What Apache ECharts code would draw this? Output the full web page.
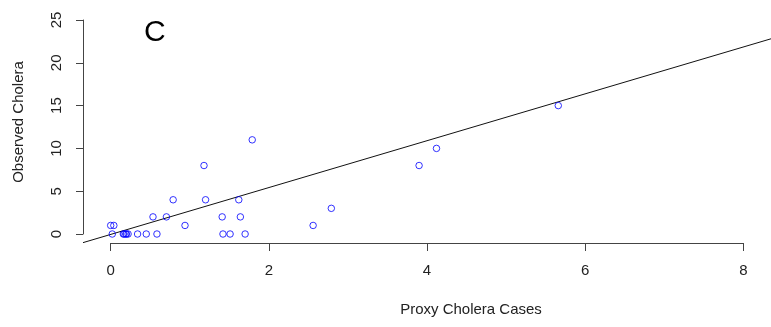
<!DOCTYPE html>
<html>
<head>
<meta charset="utf-8">
<script src="https://cdn.jsdelivr.net/npm/echarts@6/dist/echarts.min.js"></script>
<style>
  html, body { margin: 0; padding: 0; background: #fff; }
  #chart { width: 771px; height: 327px; }
</style>
</head>
<body>
<div id="chart"></div>
<script>
// proxy cholera cases (x) vs observed cholera (y)
var proxyCases = [0.00, 0.04, 0.02, 0.16, 0.17, 0.19, 0.20, 0.22, 0.34, 0.45, 0.585,
                  0.535, 0.705, 0.79, 0.94, 1.18, 1.20, 1.41, 1.42, 1.51, 1.62, 1.64,
                  1.70, 1.79, 2.56, 2.79, 3.90, 4.12, 5.66];
var observed   = [1, 1, 0, 0, 0, 0, 0, 0, 0, 0, 0,
                  2, 2, 4, 1, 8, 4, 2, 0, 0, 4, 2,
                  0, 11, 1, 3, 8, 10, 15];

// fitted line (intercept, slope) as drawn
var fitIntercept = -0.05;
var fitSlope = 2.737;

// axis ranges: ticks, and the padded plot region around them
var xTickMin = 0, xTickMax = 8, xTickStep = 2;
var yTickMin = 0, yTickMax = 25, yTickStep = 5;
var xMin = -0.35, xMax = 8.35;
var yMin = -1.05, yMax = 26.05;

// plot region in px
var plotL = 83, plotT = 11, plotW = 688, plotH = 232;

var font = "'Liberation Sans', Arial, sans-serif";
var axisColor = '#444';
var textColor = '#222';

function xPx(v) { return plotL + (v - xMin) / (xMax - xMin) * plotW; }
function yPx(v) { return plotT + (yMax - v) / (yMax - yMin) * plotH; }

var points = proxyCases.map(function (x, i) { return [x, observed[i]]; });
var fitLine = [xMin, xMax].map(function (x) { return [x, fitIntercept + fitSlope * x]; });

var labelFont = { fontFamily: font, fontSize: 15, color: textColor };

var chart = echarts.init(document.getElementById('chart'));

var option = {
    animation: false,
    backgroundColor: '#fff',
    title: {
        text: 'C',
        left: 139,
        top: 13,
        textStyle: { fontFamily: font, fontSize: 30, fontWeight: 'normal', color: '#000' }
    },
    grid: [
        // data region
        { left: plotL, top: plotT, width: plotW, height: plotH },
        // x axis, spans only first..last tick (R style)
        { left: xPx(xTickMin), top: plotT, width: xPx(xTickMax) - xPx(xTickMin), height: plotH },
        // y axis, spans only first..last tick
        { left: plotL, top: yPx(yTickMax), width: plotW, height: yPx(yTickMin) - yPx(yTickMax) }
    ],
    xAxis: [
        { gridIndex: 0, type: 'value', min: xMin, max: xMax, show: false },
        {
            gridIndex: 1,
            type: 'value',
            position: 'bottom',
            min: xTickMin,
            max: xTickMax,
            interval: xTickStep,
            name: 'Proxy Cholera Cases',
            nameLocation: 'middle',
            nameGap: 59,
            nameTextStyle: Object.assign({ padding: [0, 0, 0, 88] }, labelFont),
            axisLine: { show: true, onZero: false, lineStyle: { color: axisColor, width: 1 } },
            axisTick: { show: true, length: 8, lineStyle: { color: axisColor } },
            axisLabel: Object.assign({ margin: 20 }, labelFont),
            splitLine: { show: false }
        },
        { gridIndex: 2, type: 'value', min: xMin, max: xMax, show: false }
    ],
    yAxis: [
        { gridIndex: 0, type: 'value', min: yMin, max: yMax, show: false },
        { gridIndex: 1, type: 'value', min: yMin, max: yMax, show: false },
        {
            gridIndex: 2,
            type: 'value',
            position: 'left',
            min: yTickMin,
            max: yTickMax,
            interval: yTickStep,
            name: 'Observed Cholera',
            nameLocation: 'middle',
            nameGap: 57,
            nameTextStyle: Object.assign({ padding: [0, 0, 0, 10] }, labelFont),
            axisLine: { show: true, onZero: false, lineStyle: { color: axisColor, width: 1 } },
            axisTick: { show: true, length: 7, lineStyle: { color: axisColor } },
            axisLabel: Object.assign({ rotate: 90, margin: 19 }, labelFont),
            splitLine: { show: false }
        }
    ],
    series: [
        { // regression line
            type: 'line',
            xAxisIndex: 0,
            yAxisIndex: 0,
            data: fitLine,
            symbol: 'none',
            silent: true,
            lineStyle: { color: '#111', width: 1 },
            z: 2
        },
        { // open circles
            type: 'scatter',
            xAxisIndex: 0,
            yAxisIndex: 0,
            data: points,
            symbol: 'circle',
            symbolSize: 6.5,
            itemStyle: { color: 'transparent', borderColor: '#0000ff', borderWidth: 1 },
            z: 3
        }
    ]
};

chart.setOption(option);
</script>
</body>
</html>
